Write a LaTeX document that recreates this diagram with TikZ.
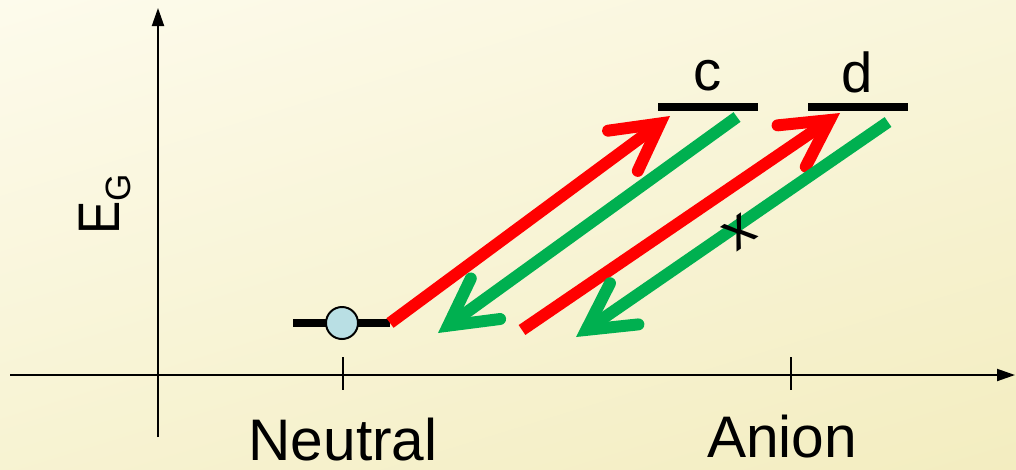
\documentclass[tikz,border=0pt]{standalone}
\usepackage{fontspec}
\setmainfont{Liberation Sans}
\usetikzlibrary{arrows.meta, positioning, shadings}
\definecolor{bgtop}{RGB}{253,251,236}
\definecolor{bgbot}{RGB}{243,237,192}
\definecolor{upred}{HTML}{FF0000}
\definecolor{downgreen}{HTML}{00B050}
\definecolor{dotblue}{HTML}{B9DFE4}

\begin{document}
\begin{tikzpicture}[
        x=0.025cm, y=-0.025cm,
        axis/.style={line width=1.4pt, -{Triangle[length=0.45cm, width=0.3cm]}},
        tick/.style={line width=1.4pt},
        level/.style={line width=6.3pt},
        label/.style={font=\fontsize{40}{48}\selectfont, inner sep=0pt},
        excite/.style={upred, line width=8.5pt, line cap=butt, -{Straight Barb[length=1.15cm, width=1.25cm, line cap=round, line join=miter]}},
        relax/.style={downgreen, line width=8.5pt, line cap=butt, -{Straight Barb[length=1.15cm, width=1.25cm, line cap=round, line join=miter]}},
        dot/.style={circle, draw=black, line width=1.4pt, fill=dotblue, minimum size=0.8cm, inner sep=0pt}
    ]
    \useasboundingbox (0,0) rectangle (1016,469);
    \shade[upper left=bgtop, lower right=bgbot, upper right=bgtop!60!bgbot, lower left=bgtop!40!bgbot] (0,0) rectangle (1016,469);

    % axes
    \coordinate (origin) at (158,375);
    \coordinate (ytop) at (158,8);
    \coordinate (ybot) at (158,437);
    \coordinate (xleft) at (10,375);
    \coordinate (xright) at (1015,375);
    \draw[tick] (ybot) -- (origin);
    \draw[axis] (origin) -- (ytop);
    \draw[axis] (xleft) -- (xright);
    \draw[tick] (343,357) -- (343,390);
    \draw[tick] (791,357) -- (791,390);

    \node[label, font=\fontsize{41.7}{48}\selectfont] (neutral) at (343,440) {Neutral};
    \node[label, font=\fontsize{41.7}{48}\selectfont] (anion) at (782,437) {Anion};
    \node[label, font=\fontsize{41.7}{48}\selectfont, rotate=90, anchor=base west] (eg) at (119,235)
        {\scalebox{0.85}[1]{E}\raisebox{-0.19em}{\fontsize{25}{30}\selectfont G}};

    % energy levels
    \coordinate (g0) at (293,323);
    \coordinate (g1) at (390,323);
    \draw[level] (g0) -- (g1);
    \node[dot] (electron) at (342,323) {};
    \coordinate (c0) at (658,107);
    \coordinate (c1) at (758,107);
    \coordinate (d0) at (808,107);
    \coordinate (d1) at (908,107);
    \draw[level] (c0) -- (c1);
    \draw[level] (d0) -- (d1);
    \node[label] (clab) at (708,76) {c};
    \node[label] (dlab) at (857,72) {d};

    % transitions
    \coordinate (r1) at (670,116);
    \coordinate (gs1) at (737,117);
    \coordinate (ge1) at (438,333);
    \coordinate (rs2) at (522,330);
    \coordinate (r2) at (840,113);
    \coordinate (gs2) at (888,122);
    \coordinate (ge2) at (576,337);
    \draw[excite] (g1) -- (r1);
    \draw[relax] (gs1) -- (ge1);
    \draw[excite] (rs2) -- (r2);
    \draw[relax] (gs2) -- (ge2);
    \node[font=\fontsize{40}{48}\selectfont, rotate=35, inner sep=0pt] (block) at (739,232) {x};
\end{tikzpicture}
\end{document}
